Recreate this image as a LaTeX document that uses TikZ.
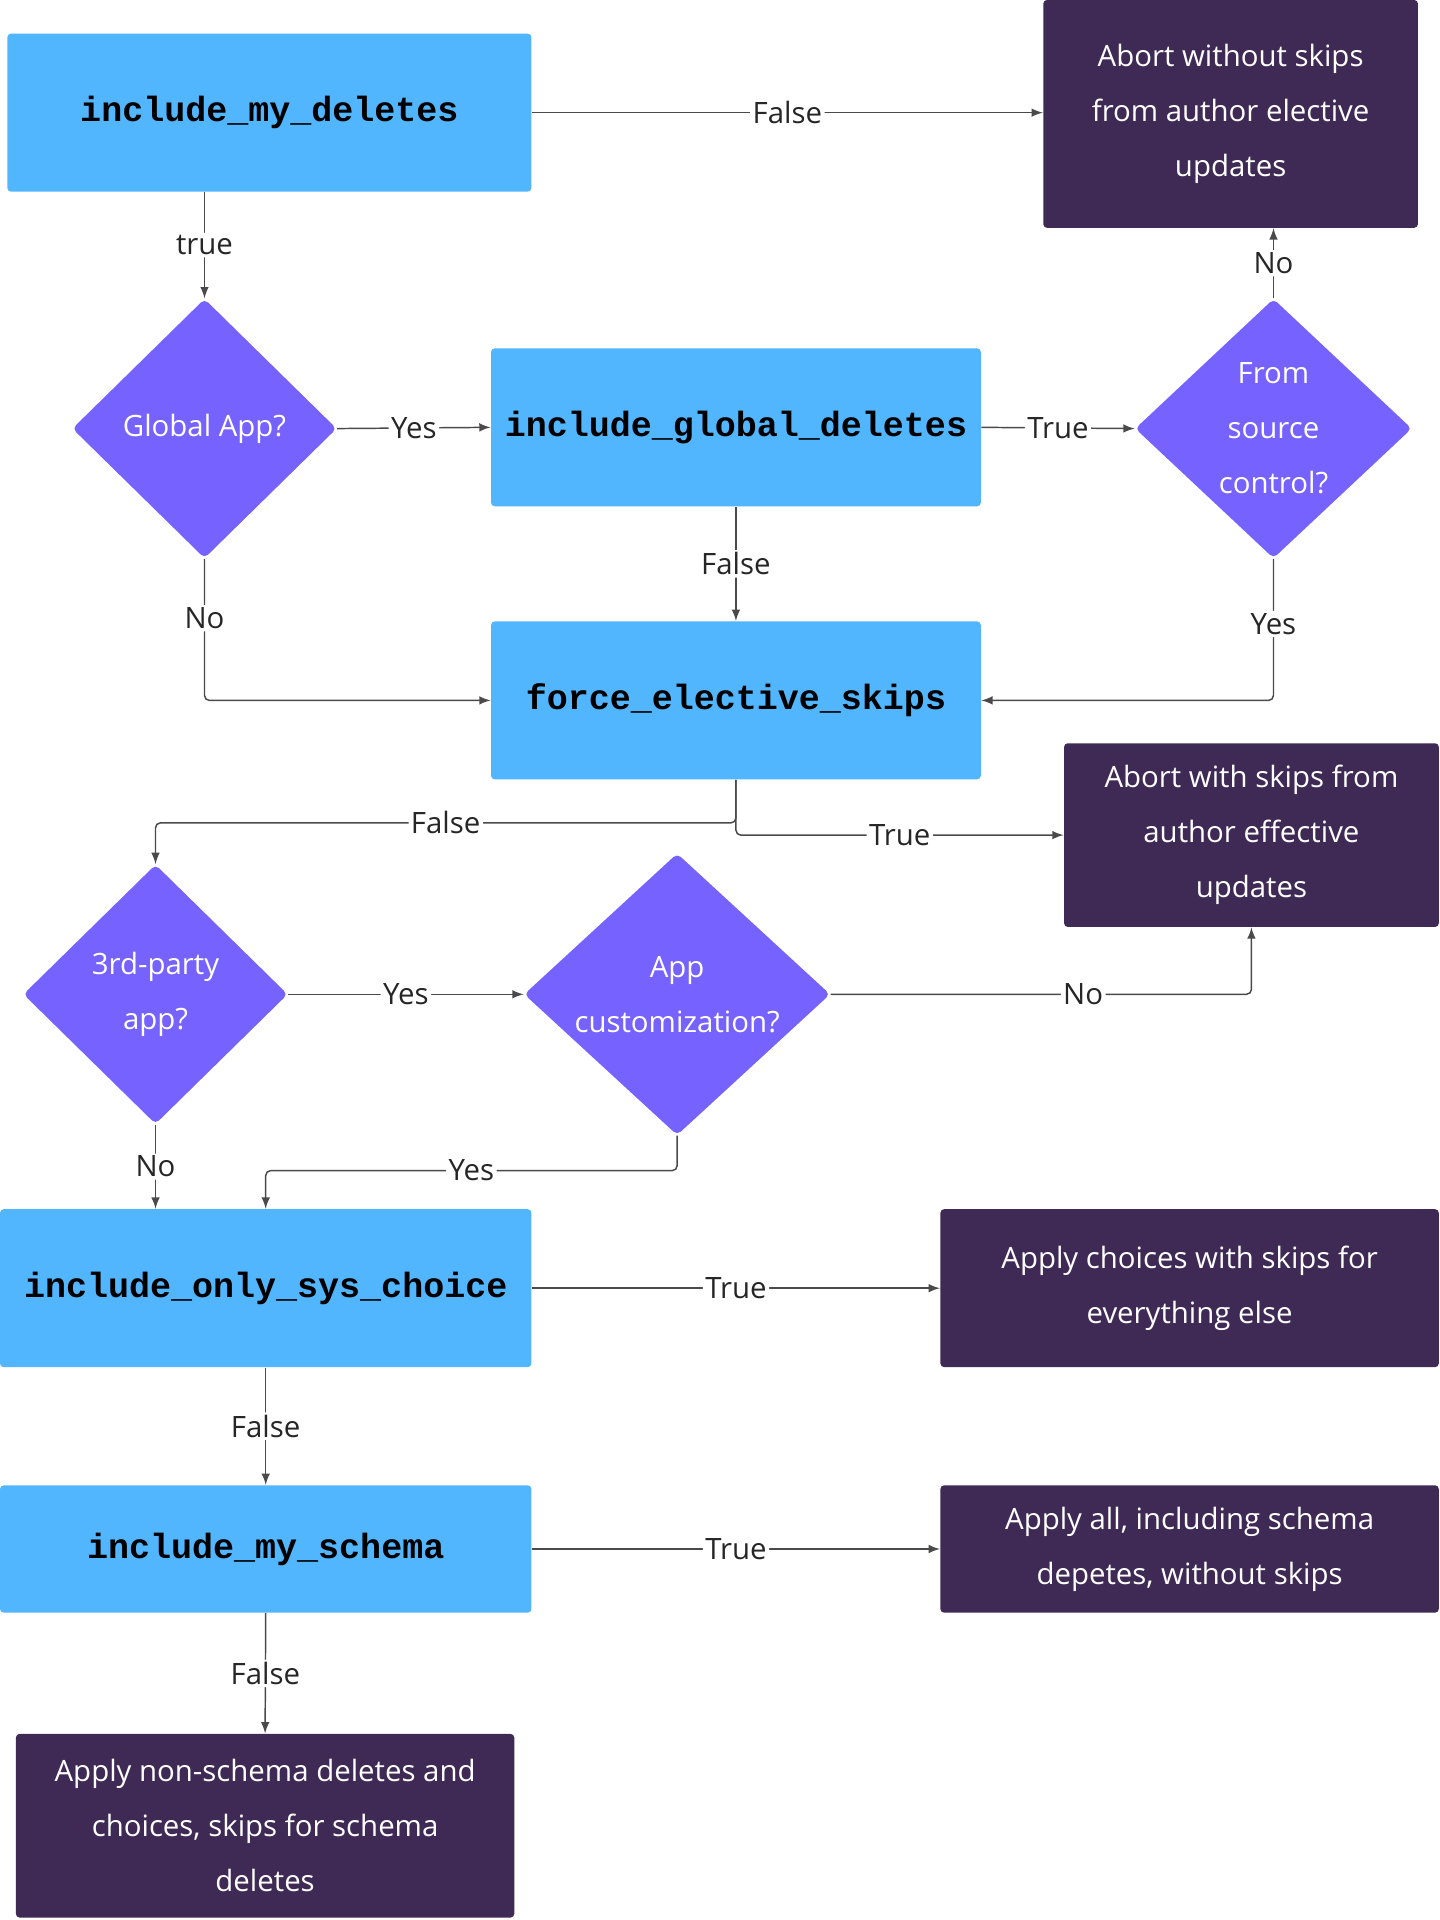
\documentclass[tikz,border=0pt]{standalone}
\usepackage{fontspec}
\setmainfont{Open Sans}
\newfontfamily\codefont{Liberation Mono}
\usetikzlibrary{shapes.geometric}
\definecolor{cblue}{HTML}{52B6FF}
\definecolor{cdark}{HTML}{3F2A56}
\definecolor{cviolet}{HTML}{7662FF}
\definecolor{cline}{HTML}{4A4A4A}
\begin{document}
\begin{tikzpicture}[x=0.5pt,y=-0.5pt,
  proc/.style={fill=cblue,rounded corners=1.5pt,inner sep=0,font=\codefont\bfseries\fontsize{14.3}{16}\selectfont},
  term/.style={fill=cdark,rounded corners=1.5pt,inner sep=0,text=white,align=center,font=\fontsize{12}{22.5}\selectfont},
  dec/.style={diamond,fill=cviolet,rounded corners=2pt,inner sep=0,text=white,align=center,font=\fontsize{12}{22.5}\selectfont},
  conn/.style={draw=cline,line width=0.6pt,-latex,rounded corners=2pt},
  lab/.style={fill=white,inner sep=1pt,font=\fontsize{12}{14}\selectfont,text=black!85}]
\useasboundingbox (0,0) rectangle (1176,1568);
\node[proc,minimum width=214pt,minimum height=64.5pt] (imd) at (220,92) {include\_my\_deletes};
\node[term,minimum width=153pt,minimum height=93pt] (ab1) at (1005,93) {Abort without skips\\from author elective\\updates};
\node[dec,minimum width=108pt,minimum height=106pt] (ga) at (167,350) {Global App?};
\node[proc,minimum width=200pt,minimum height=64.5pt] (igd) at (601,349) {include\_global\_deletes};
\node[dec,minimum width=113pt,minimum height=106pt] (fsc) at (1040,350) {From\\source\\control?};
\node[proc,minimum width=200pt,minimum height=64.5pt] (fes) at (601,572) {force\_elective\_skips};
\node[term,minimum width=153pt,minimum height=75pt] (ab2) at (1022,682) {Abort with skips from\\author effective\\updates};
\node[dec,minimum width=108pt,minimum height=106pt] (tp) at (127,812) {3rd-party\\app?};
\node[dec,minimum width=125pt,minimum height=114pt] (ac) at (553,812) {App\\customization?};
\node[proc,minimum width=217pt,minimum height=64.5pt] (isc) at (217,1052) {include\_only\_sys\_choice};
\node[term,minimum width=203.5pt,minimum height=64.5pt] (apc) at (971.5,1052) {Apply choices with skips for\\everything else};
\node[proc,minimum width=217pt,minimum height=52pt] (ims) at (217,1265) {include\_my\_schema};
\node[term,minimum width=203.5pt,minimum height=52pt] (apa) at (971.5,1265) {Apply all, including schema\\depetes, without skips};
\node[term,minimum width=203.5pt,minimum height=75pt] (ans) at (216.5,1491) {Apply non-schema deletes and\\choices, skips for schema\\deletes};

\draw[conn] (imd.east) -- node[lab,pos=0.5]{False} (ab1.west |- imd.east);
\draw[conn] (imd.south -| ga.north) -- node[lab]{true} (ga.north);
\draw[conn] (ga.east) -- node[lab]{Yes} (igd.west);
\draw[conn] (igd.east) -- node[lab]{True} (fsc.west);
\draw[conn] (fsc.north) -- node[lab]{No} (fsc.north |- ab1.south);
\draw[conn] (igd.south) -- node[lab]{False} (fes.north);
\draw[conn] (ga.south) -- node[lab,pos=0.42]{No} (ga.south |- fes.west) -- (fes.west);
\draw[conn] (fsc.south) -- node[lab,pos=0.46]{Yes} (fsc.south |- fes.east) -- (fes.east);
\coordinate (f1) at (601,672);
\draw[conn] (fes.south) -- (f1) -- node[lab,pos=0.5]{False} (f1 -| tp.north) -- (tp.north);
\draw[conn] (fes.south) |- node[lab,pos=0.75]{True} (ab2.west);
\draw[conn] (tp.east) -- node[lab]{Yes} (ac.west);
\draw[conn] (ac.east) -- node[lab,pos=0.6]{No} (ac.east -| ab2.south) -- (ab2.south);
\draw[conn] (tp.south) -- node[lab]{No} (tp.south |- isc.north);
\coordinate (a1) at (553,956);
\draw[conn] (ac.south) -- (a1) -- node[lab,pos=0.5]{Yes} (a1 -| isc.north) -- (isc.north);
\draw[conn] (isc.east) -- node[lab]{True} (apc.west);
\draw[conn] (isc.south) -- node[lab]{False} (ims.north);
\draw[conn] (ims.east) -- node[lab]{True} (apa.west);
\draw[conn] (ims.south) -- node[lab]{False} (ans.north);
\end{tikzpicture}
\end{document}
